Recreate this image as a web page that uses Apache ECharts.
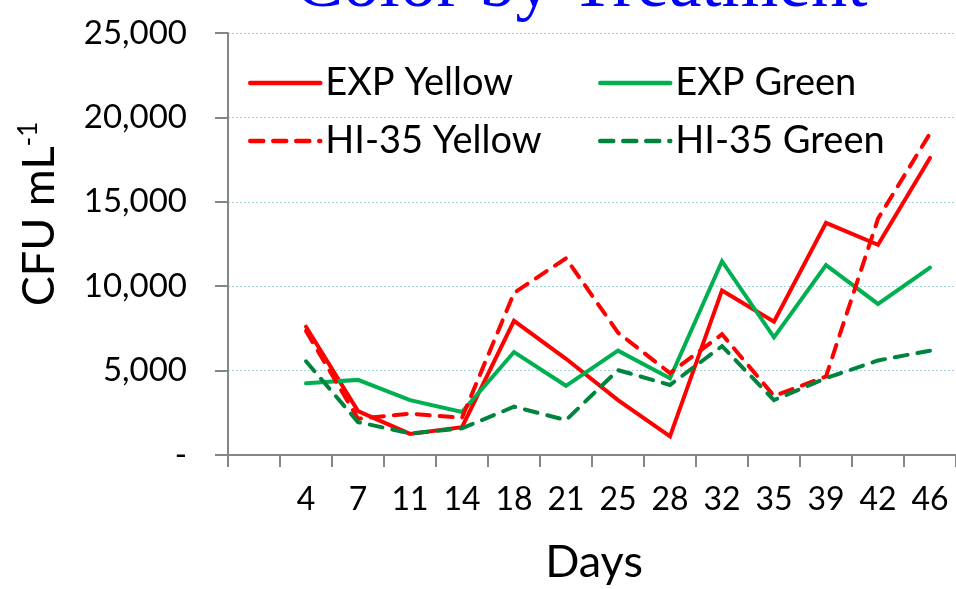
<!DOCTYPE html>
<html>
<head>
<meta charset="utf-8">
<script src="https://cdn.jsdelivr.net/npm/echarts@6/dist/echarts.min.js"></script>
<style>
html,body{margin:0;padding:0;background:#fff;}
#chart{width:956px;height:589px;}
</style>
</head>
<body>
<div id="chart"></div>
<script>
var days = ['', '4', '7', '11', '14', '18', '21', '25', '28', '32', '35', '39', '42', '46'];
var expYellow  = [null, 7600, 2600, 1250, 1650, 7950, 5700, 3250, 1100, 9750, 7900, 13750, 12450, 17600];
var expGreen   = [null, 4250, 4450, 3250, 2550, 6100, 4100, 6180, 4550, 11480, 6970, 11250, 8950, 11100];
var hiYellow   = [null, 7350, 2150, 2450, 2200, 9600, 11650, 7250, 4850, 7150, 3500, 4650, 14000, 19050];
var hiGreen    = [null, 5550, 1950, 1280, 1580, 2860, 2070, 5030, 4150, 6450, 3250, 4550, 5600, 6180];
var seriesNames = ['EXP Yellow', 'EXP Green', 'HI-35 Yellow', 'HI-35 Green'];
var yTicks = [0, 5000, 10000, 15000, 20000, 25000];

var FONT = 'Lato';
var chart = echarts.init(document.getElementById('chart'), null, {renderer: 'canvas'});

function lineSeries(name, data, color, dashed) {
  return {
    name: name, type: 'line', data: data, symbol: 'none', showSymbol: false, connectNulls: false,
    lineStyle: {color: color, width: 4, type: dashed ? [13, 10] : 'solid', cap: 'round', join: 'miter'},
    itemStyle: {color: color},
    emphasis: {disabled: true}, animation: false
  };
}

var legendText = {fontFamily: FONT, fontSize: 38, color: '#000', lineHeight: 40};
var legendCommon = {orient: 'vertical', top: 58, itemWidth: 70, itemHeight: 14, itemGap: 18,
  textStyle: legendText, itemStyle: {opacity: 0}, lineStyle: {width: 4.5}, selectedMode: false};

chart.setOption({
  animation: false,
  backgroundColor: '#fff',
  grid: {left: 228, right: 0, top: 33, bottom: 134, containLabel: false},
  legend: [
    Object.assign({data: [seriesNames[0], seriesNames[2]], left: 243}, legendCommon),
    Object.assign({data: [seriesNames[1], seriesNames[3]], left: 593}, legendCommon)
  ],
  xAxis: {
    type: 'category', data: days, boundaryGap: true,
    axisLine: {lineStyle: {color: '#868686', width: 2}},
    axisTick: {show: true, length: 12, lineStyle: {color: '#868686', width: 2}, alignWithLabel: false, interval: 0},
    axisLabel: {interval: 0, fontFamily: FONT, fontSize: 32, color: '#000', margin: 29},
    splitLine: {show: false}
  },
  yAxis: {
    type: 'value', min: yTicks[0], max: yTicks[yTicks.length - 1], interval: yTicks[1] - yTicks[0],
    axisLine: {show: true, lineStyle: {color: '#868686', width: 2}},
    axisTick: {show: true, length: 13, lineStyle: {color: '#868686', width: 2}},
    axisLabel: {fontFamily: FONT, fontSize: 33, color: '#000', margin: 41,
      formatter: function (v) { return v === 0 ? '-' : v.toLocaleString('en-US'); }},
    splitLine: {show: true, lineStyle: {color: '#9fd3dc', width: 1, type: [2, 2]}}
  },
  series: [
    lineSeries(seriesNames[0], expYellow, '#ff0000', false),
    lineSeries(seriesNames[1], expGreen, '#00b050', false),
    lineSeries(seriesNames[2], hiYellow, '#ff0000', true),
    lineSeries(seriesNames[3], hiGreen, '#00843d', true)
  ],
  graphic: [
    {type: 'text', x: 581, y: -13, silent: true,
     style: {text: 'Color by Treatment', font: '73px "Liberation Serif"', fill: '#0000ff', textAlign: 'center', textVerticalAlign: 'middle'}},
    {type: 'text', x: 594, y: 562, silent: true,
     style: {text: 'Days', font: '45px Lato', fill: '#000', textAlign: 'center', textVerticalAlign: 'middle'}},
    {type: 'text', x: 39, y: 214, rotation: Math.PI / 2, silent: true,
     style: {text: '{a|CFU mL}{s|-1}', textAlign: 'center', textVerticalAlign: 'middle', fill: '#000',
       rich: {a: {fontFamily: FONT, fontSize: 45, lineHeight: 46, fill: '#000'},
              s: {fontFamily: FONT, fontSize: 26, lineHeight: 46, verticalAlign: 'top', fill: '#000'}}}}
  ]
});
</script>
</body>
</html>
